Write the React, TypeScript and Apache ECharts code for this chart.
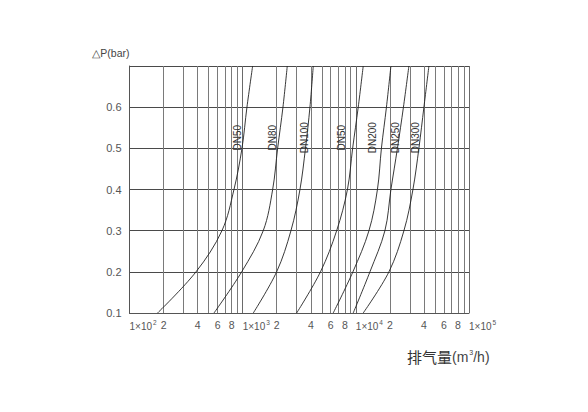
import { useEffect, useRef } from 'react';
import * as echarts from 'echarts';

// 压差 ΔP (bar)
const pressure = [0.1, 0.2, 0.3, 0.4, 0.5, 0.6, 0.7];

// 排气量 m³/h，每条曲线对应 pressure 的每个点
const dn50 = [177, 387, 656, 838, 986, 1091, 1225];
const dn80 = [558, 980, 1520, 1841, 2037, 2270, 2478];
const dn100 = [1241, 1996, 2671, 3208, 3589, 3931, 4205];
const dn150 = [3000, 4870, 6770, 8430, 9370, 10500, 11620];
const dn200 = [6310, 9420, 13060, 15520, 16830, 18640, 20420];
const dn250 = [9480, 13320, 18070, 20420, 23310, 26340, 29440];
const dn300 = [11620, 19610, 26610, 31950, 36070, 39960, 44240];

const curveFlows = [dn50, dn80, dn100, dn150, dn200, dn250, dn300];
// 原图第四条曲线标注为 DN50
const curveNames = ['DN50', 'DN80', 'DN100', 'DN50', 'DN200', 'DN250', 'DN300'];
const labelFlow = [900, 1840, 3490, 7510, 13930, 22600, 33620];
const labelPressure = 0.526;

// 对数轴中间的细分线
const minorFlows = [
  200, 300, 400, 500, 600, 700, 800, 900,
  2000, 3000, 4000, 5000, 6000, 7000, 8000, 9000,
  20000, 30000, 40000, 50000, 60000, 70000, 80000, 90000,
];
const labeledDigits = [2, 4, 6, 8];

const font = '"Liberation Sans", Arial, sans-serif';
const cjkFont = '"Noto Sans CJK SC", "Liberation Sans", sans-serif';

export default function App() {
  const ref = useRef<HTMLDivElement>(null);

  useEffect(() => {
    document.body.style.margin = '0';
    if (!ref.current) return;
    const chart = echarts.init(ref.current, undefined, { renderer: 'svg' });

    const leading = (v: number) => Math.round(v / Math.pow(10, Math.floor(Math.log10(v) + 1e-9)));

    const series: any[] = curveFlows.map((flows, i) => ({
      type: 'line',
      name: curveNames[i],
      data: flows.map((q, j) => [q, pressure[j]]),
      showSymbol: false,
      smooth: 0.35,
      silent: true,
      lineStyle: { color: '#222', width: 0.9 },
      z: 3,
      markPoint: {
        silent: true,
        symbol: 'circle',
        symbolSize: 0,
        data: [{ coord: [labelFlow[i], labelPressure] }],
        label: {
          show: true,
          position: 'inside',
          rotate: 90,
          formatter: curveNames[i],
          fontSize: 10,
          fontFamily: font,
          color: '#333',
        },
      },
    }));

    series[0].markLine = {
      silent: true,
      symbol: ['none', 'none'],
      z: 1,
      lineStyle: { color: '#7a7a7a', width: 1, type: 'solid' },
      label: {
        show: true,
        position: 'start',
        distance: 6,
        fontSize: 10.5,
        fontFamily: font,
        color: '#555',
        formatter: (p: any) => String(leading(p.value)),
      },
      data: minorFlows.map((q) => ({
        xAxis: q,
        label: { show: labeledDigits.includes(leading(q)) },
      })),
    };

    chart.setOption({
      animation: false,
      backgroundColor: '#fff',
      grid: { left: 129.5, right: 119, top: 66, bottom: 99, outerBoundsMode: 'none' },
      xAxis: {
        type: 'log',
        logBase: 10,
        min: 100,
        max: 100000,
        axisLine: { show: true, lineStyle: { color: '#555', width: 1 } },
        axisTick: { show: false },
        splitLine: { show: true, lineStyle: { color: '#6a6a6a', width: 1 } },
        axisLabel: {
          align: 'left',
          margin: 6,
          color: '#555',
          formatter: (v: number) => `{b|1×10}{s|${Math.round(Math.log10(v))}}`,
          rich: {
            b: { fontSize: 10, fontFamily: font, color: '#555', verticalAlign: 'bottom' },
            s: { fontSize: 6.5, fontFamily: font, color: '#555', verticalAlign: 'bottom', padding: [0, 0, 5, 1] },
          },
        },
      },
      yAxis: {
        type: 'value',
        min: 0.1,
        max: 0.7,
        interval: 0.1,
        name: '△P(bar)',
        nameLocation: 'end',
        nameGap: 13,
        nameTextStyle: {
          align: 'right',
          verticalAlign: 'middle',
          fontSize: 10.5,
          fontFamily: font,
          color: '#444',
        },
        axisLine: { show: true, lineStyle: { color: '#555', width: 1 } },
        axisTick: { show: false },
        splitLine: { show: true, lineStyle: { color: '#4a4a4a', width: 1 } },
        axisLabel: {
          margin: 8,
          fontSize: 11,
          fontFamily: font,
          color: '#555',
          formatter: (v: number) => (v > 0.65 ? '' : v.toFixed(1)),
        },
      },
      graphic: [
        {
          type: 'text',
          left: 407,
          top: 349,
          style: {
            text: '{a|排气量}{b|(m}{s|3}{b|/h)}',
            rich: {
              a: { fontSize: 15, fontFamily: cjkFont, fill: '#333', verticalAlign: 'bottom' },
              b: { fontSize: 14, fontFamily: font, fill: '#444', verticalAlign: 'bottom' },
              s: { fontSize: 7, fontFamily: font, fill: '#444', verticalAlign: 'bottom', padding: [0, 0, 8, 1] },
            },
          },
        },
      ],
      series,
    });

    return () => {
      chart.dispose();
    };
  }, []);

  return <div ref={ref} style={{ width: 588, height: 412 }} />;
}
